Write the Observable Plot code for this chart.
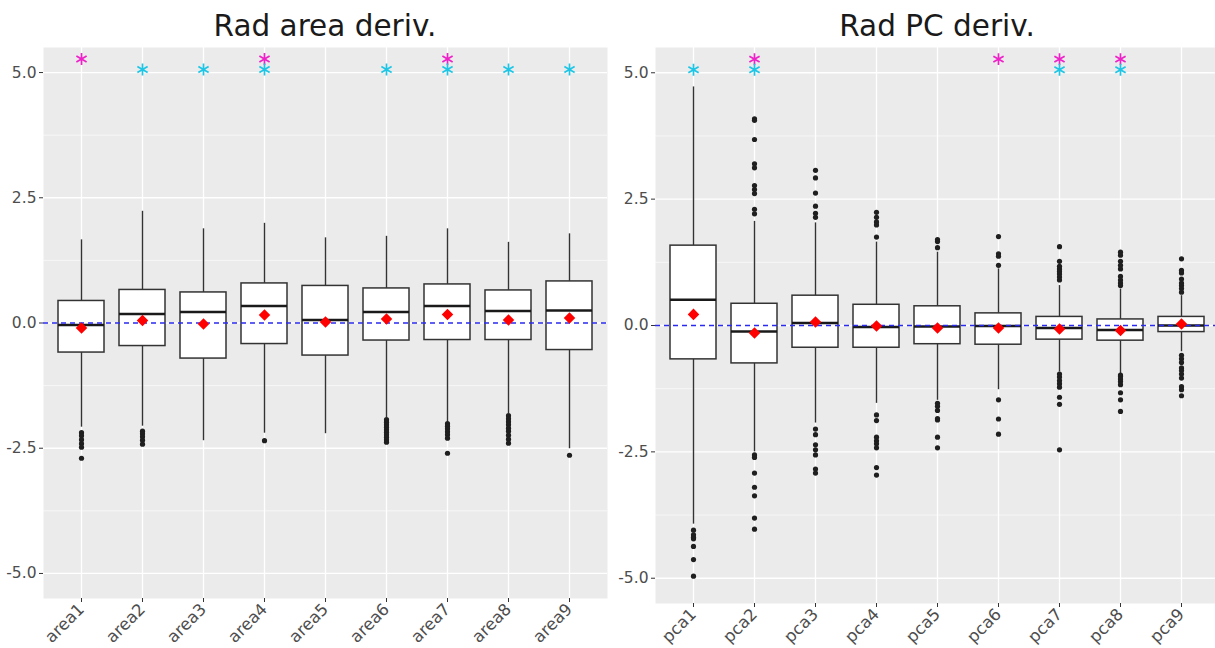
<!DOCTYPE html>
<html>
<head>
<meta charset="utf-8">
<script src="https://cdn.jsdelivr.net/npm/d3@7"></script>
<script src="https://cdn.jsdelivr.net/npm/@observablehq/plot@0.6"></script>
<style>
  html, body { margin: 0; padding: 0; background: white; overflow: hidden; width: 1215px; height: 648px; }
  #root { position: relative; width: 1215px; height: 648px; }
  .title { position: absolute; top: 8px; font-family: "DejaVu Sans", sans-serif; font-size: 29.5px; line-height: 36px; color: #1a1a1a; text-align: center; white-space: nowrap; }
  .panel { position: absolute; top: 0; }
  .panel svg { max-width: none !important; }
</style>
</head>
<body>
<div id="root">
  <div class="title" style="left:43px;width:564px;">Rad area deriv.</div>
  <div class="title" style="left:655px;width:564px;">Rad PC deriv.</div>
  <div class="panel" id="left" style="left:0px;"></div>
  <div class="panel" id="right" style="left:600px;"></div>
</div>
<script>
// ---------- Left panel: Rad area deriv. ----------
const areaCats = ["area1","area2","area3","area4","area5","area6","area7","area8","area9"];
const areaQ1 = [-0.59, -0.46, -0.71, -0.42, -0.65, -0.35, -0.34, -0.34, -0.54];
const areaMedian = [-0.04, 0.18, 0.22, 0.34, 0.06, 0.22, 0.34, 0.24, 0.25];
const areaQ3 = [0.44, 0.66, 0.61, 0.79, 0.74, 0.69, 0.77, 0.65, 0.83];
const areaLow = [-2.08, -2.06, -2.35, -2.20, -2.21, -1.89, -1.98, -1.81, -2.51];
const areaHigh = [1.66, 2.23, 1.88, 1.99, 1.70, 1.73, 1.88, 1.61, 1.78];
const areaMean = [-0.10, 0.05, -0.02, 0.16, 0.02, 0.08, 0.17, 0.06, 0.10];
const areaOutliers = [
  [-2.19, -2.25, -2.33, -2.41, -2.48, -2.70],
  [-2.16, -2.21, -2.27, -2.34, -2.42],
  [],
  [-2.35],
  [],
  [-1.93, -1.98, -2.03, -2.08, -2.13, -2.18, -2.23, -2.28, -2.33, -2.38],
  [-2.01, -2.06, -2.11, -2.17, -2.23, -2.30, -2.60],
  [-1.85, -1.91, -1.97, -2.03, -2.10, -2.16, -2.24, -2.32, -2.40],
  [-2.64]
];
const areaStarMagenta = ["area1", "area4", "area7"];
const areaStarCyan = ["area2", "area3", "area4", "area6", "area7", "area8", "area9"];

// ---------- Right panel: Rad PC deriv. ----------
const pcaCats = ["pca1","pca2","pca3","pca4","pca5","pca6","pca7","pca8","pca9"];
const pcaQ1 = [-0.67, -0.75, -0.44, -0.44, -0.37, -0.38, -0.28, -0.30, -0.13];
const pcaMedian = [0.51, -0.12, 0.05, -0.03, -0.02, -0.01, -0.05, -0.09, 0.00];
const pcaQ3 = [1.58, 0.43, 0.59, 0.41, 0.38, 0.24, 0.17, 0.12, 0.17];
const pcaLow = [-3.93, -2.50, -1.93, -1.54, -1.48, -1.27, -0.92, -0.96, -0.52];
const pcaHigh = [4.72, 2.06, 2.03, 1.65, 1.45, 1.12, 0.79, 0.72, 0.59];
const pcaMean = [0.22, -0.15, 0.07, -0.01, -0.05, -0.05, -0.07, -0.10, 0.03];
const pcaOutliers = [
  [-4.05, -4.14, -4.19, -4.22, -4.37, -4.63, -4.96],
  [4.09, 4.06, 3.68, 3.20, 3.12, 2.77, 2.69, 2.61, 2.30, 2.21, -2.56, -2.61, -2.92, -3.20, -3.37, -3.81, -4.03],
  [3.07, 2.92, 2.62, 2.36, 2.22, 2.14, -2.05, -2.16, -2.36, -2.46, -2.56, -2.84, -2.92],
  [2.24, 2.14, 2.05, 1.99, 1.75, -1.77, -1.88, -2.21, -2.28, -2.34, -2.42, -2.81, -2.96],
  [1.70, 1.66, 1.54, -1.54, -1.60, -1.68, -1.84, -1.87, -2.21, -2.42],
  [1.76, 1.42, 1.37, 1.19, -1.47, -1.85, -2.15],
  [1.56, 1.27, 1.17, 1.12, 1.07, 1.02, 0.96, 0.90, -0.96, -1.02, -1.09, -1.15, -1.22, -1.42, -1.56, -2.46],
  [1.45, 1.39, 1.27, 1.19, 1.12, 0.97, 0.90, 0.84, 0.79, -0.98, -1.01, -1.06, -1.11, -1.17, -1.33, -1.47, -1.70],
  [1.32, 1.09, 1.04, 0.92, 0.84, 0.79, 0.73, 0.66, -0.59, -0.66, -0.73, -0.84, -0.89, -0.96, -1.04, -1.21, -1.27, -1.39]
];
const pcaStarMagenta = ["pca2", "pca6", "pca7", "pca8"];
const pcaStarCyan = ["pca1", "pca2", "pca7", "pca8"];

// significance-marker levels (data units)
const magentaLevel = 5.27;
const cyanLevel = 5.06;
const yTicks = [-5, -2.5, 0, 2.5, 5];
const yMinor = [-3.75, -1.25, 1.25, 3.75];

function panel(cats, q1, med, q3, lo, hi, mean, outl, magenta, cyan, cfg) {
  const rows = cats.map((c, i) => ({cat: c, q1: q1[i], med: med[i], q3: q3[i], lo: lo[i], hi: hi[i], mean: mean[i]}));
  const outRows = cats.flatMap((c, i) => outl[i].map(v => ({cat: c, v})));
  return Plot.plot({
    width: cfg.width,
    height: 648,
    marginLeft: cfg.marginLeft,
    marginRight: cfg.marginRight,
    marginTop: 47,
    marginBottom: cfg.marginBottom,
    style: {background: "transparent", fontFamily: "DejaVu Sans, sans-serif", fontSize: "15px", color: "#4d4d4d", overflow: "visible"},
    x: {type: "band", domain: cats, paddingInner: 0.25, paddingOuter: 0.225},
    y: {domain: [-5.5, 5.5]},
    marks: [
      Plot.frame({fill: "#EBEBEB", stroke: null}),
      Plot.ruleY(yMinor, {stroke: "white", strokeWidth: 0.6}),
      Plot.ruleY(yTicks, {stroke: "white", strokeWidth: 1.3}),
      Plot.ruleX(cats, {x: d => d, stroke: "white", strokeWidth: 1.3}),
      Plot.axisY({ticks: yTicks, tickFormat: d => d.toFixed(1), label: null, tickSize: 4, tickPadding: 3, fontSize: 15.5, stroke: "#333333"}),
      Plot.axisX({label: null, tickRotate: -45, tickSize: 4, tickPadding: 4, fontSize: 16.5, stroke: "#333333"}),
      Plot.ruleX(rows, {x: "cat", y1: "lo", y2: "q1", stroke: "#333333", strokeWidth: 1.4}),
      Plot.ruleX(rows, {x: "cat", y1: "q3", y2: "hi", stroke: "#333333", strokeWidth: 1.4}),
      Plot.barY(rows, {x: "cat", y1: "q1", y2: "q3", fill: "white", stroke: "#333333", strokeWidth: 1.5}),
      Plot.tickY(rows, {x: "cat", y: "med", stroke: "#1a1a1a", strokeWidth: 2.6}),
      Plot.ruleY([0], {stroke: "#2a2aee", strokeWidth: 1.4, strokeDasharray: "5,4"}),
      Plot.dot(outRows, {x: "cat", y: "v", r: 2.6, fill: "#1f1f1f", stroke: null}),
      Plot.dot(rows, {x: "cat", y: "mean", symbol: "diamond2", r: 5.2, fill: "#ff0000", stroke: null}),
      Plot.dot(magenta, {x: d => d, y: () => magentaLevel, symbol: "asterisk", r: 5.6, stroke: "#ee22c8", strokeWidth: 1.7}),
      Plot.dot(cyan, {x: d => d, y: () => cyanLevel, symbol: "asterisk", r: 5.6, stroke: "#1ec6e6", strokeWidth: 1.7})
    ]
  });
}

document.getElementById("left").appendChild(
  panel(areaCats, areaQ1, areaMedian, areaQ3, areaLow, areaHigh, areaMean, areaOutliers, areaStarMagenta, areaStarCyan,
    {width: 620, marginLeft: 43, marginRight: 13, marginBottom: 50})
);
document.getElementById("right").appendChild(
  panel(pcaCats, pcaQ1, pcaMedian, pcaQ3, pcaLow, pcaHigh, pcaMean, pcaOutliers, pcaStarMagenta, pcaStarCyan,
    {width: 640, marginLeft: 55, marginRight: 21, marginBottom: 45})
);
</script>
</body>
</html>
